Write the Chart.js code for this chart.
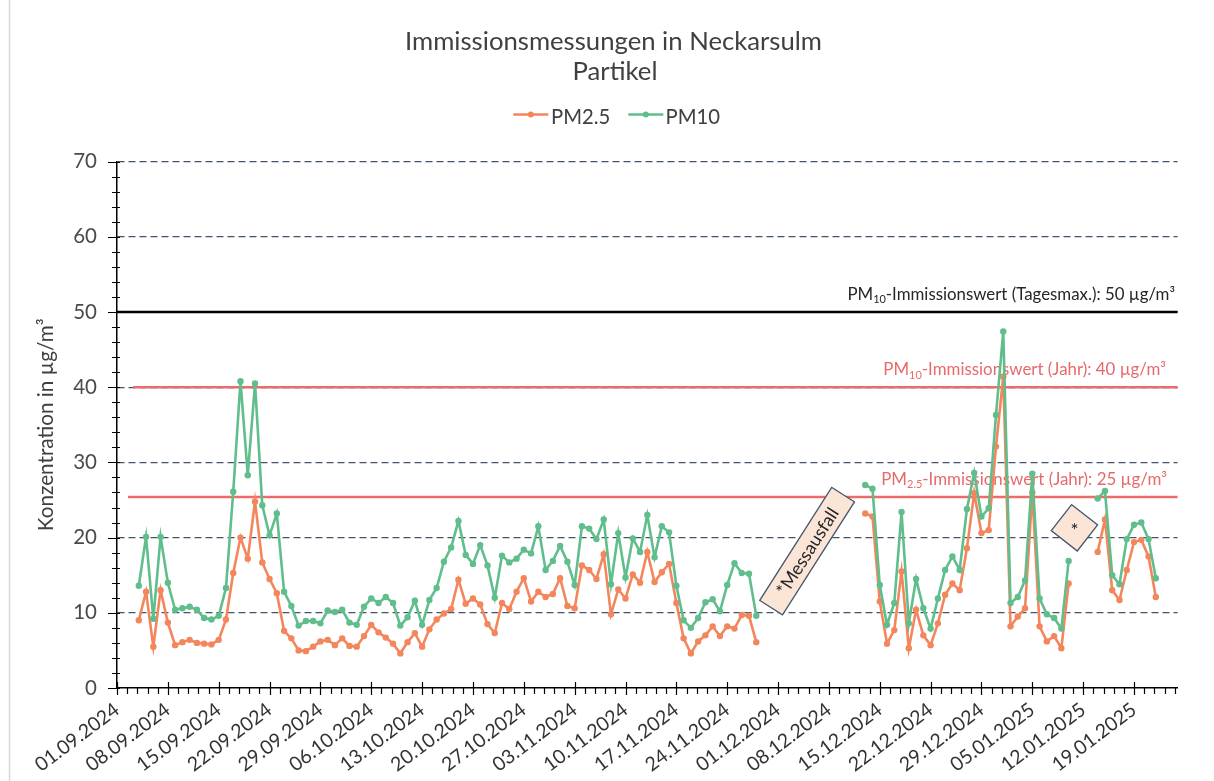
<!DOCTYPE html>
<html><head><meta charset="utf-8">
<script src="https://cdn.jsdelivr.net/npm/chart.js@4/dist/chart.umd.min.js"></script>
<style>html,body{margin:0;padding:0;background:#fff;}#wrap{width:1214px;height:781px;position:relative;}</style>
</head><body><div id="wrap"><canvas id="c" width="1214" height="781"></canvas></div>
<script>
// ---------- DATA ----------
const titleLines = ['Immissionsmessungen in Neckarsulm', 'Partikel'];
const seriesNames = ['PM2.5', 'PM10'];
const axisStartDate = '2024-09-01';
const axisEndDate = '2025-01-25';
const tickLabels = ['01.09.2024','08.09.2024','15.09.2024','22.09.2024','29.09.2024','06.10.2024','13.10.2024','20.10.2024','27.10.2024','03.11.2024','10.11.2024','17.11.2024','24.11.2024','01.12.2024','08.12.2024','15.12.2024','22.12.2024','29.12.2024','05.01.2025','12.01.2025','19.01.2025'];
const yTickValues = [0, 10, 20, 30, 40, 50, 60, 70];
const segmentStarts = ['2024-09-04', '2024-12-13', '2025-01-14'];
const pm25Part1 = [9.0,12.8,5.5,13.0,8.7,5.7,6.1,6.4,6.0,5.9, 5.8,6.4,9.1,15.3,20.0,17.2,24.8,16.7,14.5,12.6, 7.6,6.6,5.0,4.9,5.5,6.2,6.4,5.7,6.6,5.6, 5.5,6.9,8.4,7.4,6.7,5.9,4.6,6.1,7.3,5.5, 7.8,9.1,9.9,10.5,14.4,11.2,11.9,11.1,8.5,7.3, 11.3,10.5,12.8,14.6,11.5,12.8,12.1,12.5,14.6,10.9, 10.6,16.3,15.7,14.5,17.8,9.8,13.1,11.9,15.1,14.0, 18.1,14.1,15.4,16.5,11.3,6.6,4.6,6.2,7.0,8.2, 6.9,8.2,7.9,9.7,9.6,6.1];
const pm10Part1 = [13.6,20.1,9.2,20.1,14.0,10.4,10.6,10.8,10.4,9.3, 9.1,9.6,13.3,26.1,40.8,28.3,40.5,24.3,20.3,23.2, 12.8,10.9,8.3,8.9,8.9,8.6,10.3,10.1,10.4,8.7, 8.4,10.8,11.9,11.3,12.1,11.3,8.3,9.4,11.6,8.4, 11.7,13.3,16.8,18.7,22.2,17.7,16.5,19.0,16.3,12.0, 17.6,16.7,17.2,18.4,17.9,21.5,15.7,16.9,18.9,16.8, 13.7,21.5,21.2,19.8,22.4,13.8,20.6,14.7,19.9,18.1, 23.0,17.4,21.5,20.7,13.6,9.0,8.0,9.3,11.4,11.8, 10.2,13.7,16.6,15.3,15.2,9.6];
const pm25Part2 = [23.2,22.8,11.5,5.9,7.7,15.5,5.3,10.4,7.0,5.7, 8.6,12.4,13.9,13.0,18.6,25.9,20.6,21.0,32.1,41.4, 8.2,9.5,10.6,26.0,8.2,6.2,6.9,5.3,13.9];
const pm10Part2 = [27.0,26.5,13.7,8.4,11.3,23.4,8.6,14.5,10.6,7.9, 11.9,15.7,17.5,15.7,23.8,28.6,22.8,23.9,36.3,47.4, 11.3,12.1,14.3,28.5,11.9,9.8,9.3,7.9,16.9];
const pm25Part3 = [18.1,22.4,13.0,11.7,15.7,19.4,19.7,17.5,12.1];
const pm10Part3 = [25.2,26.2,15.0,13.8,19.8,21.7,22.0,19.8,14.6];
const limitValues = [50, 40, 25.4];
const limitLabelParts = [
  [['PM',0],['10',1],['-Immissionswert (Tagesmax.): 50 µg/m³',0]],
  [['PM',0],['10',1],['-Immissionswert (Jahr): 40 µg/m³',0]],
  [['PM',0],['2.5',1],['-Immissionswert (Jahr): 25 µg/m³',0]]
];
const gapNotes = ['*Messausfall', '*'];
const yAxisTitle = 'Konzentration in µg/m³';

// ---------- helpers ----------
const DAY = 86400000;
function dayIndex(iso){const [Y,M,D]=iso.split('-').map(Number);return Math.round((Date.UTC(Y,M-1,D)-Date.UTC(...axisStartDate.split('-').map((v,i)=>i===1?Number(v)-1:Number(v))))/DAY);}
function buildSeries(parts){
  const pts=[];
  parts.forEach((vals,i)=>{
    const s=dayIndex(segmentStarts[i]);
    if(i>0) pts.push({x:s-0.5,y:null});
    vals.forEach((v,j)=>pts.push({x:s+j,y:v}));
  });
  return pts;
}
const FONT='Lato';
const mctx=document.createElement('canvas').getContext('2d');
function fit(text,target){mctx.font='100px '+FONT;return 100*target/mctx.measureText(text).width;}
function partsWidth(ctx,parts,size){let w=0;parts.forEach(([t,sub])=>{ctx.font=(sub?size*0.65:size)+'px '+FONT;w+=ctx.measureText(t).width;});return w;}

const COL_TEXT='#404040', COL_GREEN='#5FBE8B', COL_ORANGE='#F3865C', COL_RED='#EE6B6B', COL_GRID='#44546A';

const xMax = dayIndex(axisEndDate);

const decor = {
  id:'decor',
  beforeDatasetsDraw(chart){
    const {ctx, chartArea:a, scales:{x,y}} = chart;
    ctx.save();
    const starts=[a.left, a.left+16, a.left+11];
    const colors=['#000000', COL_RED, COL_RED];
    const widths=[2.6,2.4,2.4];
    limitValues.forEach((v,i)=>{
      const py=y.getPixelForValue(v);
      ctx.strokeStyle=colors[i]; ctx.lineWidth=widths[i];
      ctx.beginPath(); ctx.moveTo(starts[i],py); ctx.lineTo(a.right,py); ctx.stroke();
    });
    const rights=[1175,1166,1167];
    const targets=[328,283,286];
    const txtColors=['#262626','#E8696B','#E8696B'];
    limitValues.forEach((v,i)=>{
      const parts=limitLabelParts[i];
      const size=16*targets[i]/partsWidth(ctx,parts,16);
      const w=partsWidth(ctx,parts,size);
      let px=rights[i]-w;
      const base=y.getPixelForValue(v)-12;
      ctx.fillStyle=txtColors[i]; ctx.textBaseline='alphabetic'; ctx.textAlign='left';
      parts.forEach(([t,sub])=>{
        const s=sub?size*0.65:size;
        ctx.font=s+'px '+FONT;
        ctx.fillText(t,px,sub?base+size*0.2:base);
        px+=ctx.measureText(t).width;
      });
    });
    ctx.restore();
  },
  afterDraw(chart){
    const {ctx, chartArea:a, scales:{x,y}} = chart;
    ctx.save();
    ctx.strokeStyle='#000'; ctx.lineWidth=1.2;
    ctx.beginPath();
    for(let v=0; v<=70+1e-9; v+=2){
      const py=Math.round(y.getPixelForValue(v))+0.5;
      const major=(Math.round(v)%10===0);
      ctx.moveTo(a.left-(major?9:5),py); ctx.lineTo(a.left+3,py);
    }
    for(let k=0; k*1.4<=xMax+1e-9; k++){
      const d=k*1.4;
      const px=Math.round(x.getPixelForValue(d))+0.5;
      const major=(k%5===0);
      ctx.moveTo(px,a.bottom-(major?6:0)); ctx.lineTo(px,a.bottom+(major?7:6));
    }
    ctx.stroke();
    ctx.strokeStyle='#D9D9D9'; ctx.lineWidth=1.5;
    ctx.beginPath(); ctx.moveTo(9.5,0); ctx.lineTo(9.5,781); ctx.stroke();
    ctx.fillStyle=COL_TEXT; ctx.textAlign='center'; ctx.textBaseline='alphabetic';
    const ts=fit(titleLines[0],417);
    ctx.font=ts+'px '+FONT;
    ctx.fillText(titleLines[0],613.5,49.5);
    ctx.fillText(titleLines[1],615,79.5);
    const ls=fit(seriesNames[0],59.3);
    const items=[{x0:513.3,x1:548.3,tx:551,col:COL_ORANGE,t:seriesNames[0]},{x0:628.3,x1:663.3,tx:665.5,col:COL_GREEN,t:seriesNames[1]}];
    items.forEach(it=>{
      ctx.strokeStyle=it.col; ctx.lineWidth=2.5;
      ctx.beginPath(); ctx.moveTo(it.x0,114.5); ctx.lineTo(it.x1,114.5); ctx.stroke();
      ctx.fillStyle=it.col; ctx.beginPath(); ctx.arc((it.x0+it.x1)/2,114.5,3,0,Math.PI*2); ctx.fill();
      ctx.fillStyle=COL_TEXT; ctx.textAlign='left'; ctx.font=ls+'px '+FONT;
      ctx.fillText(it.t,it.tx,124);
    });
    const boxes=[{d:95.0,v:18.2,w:134,h:27,rot:-57.5,fs:18},{d:131.8,v:21.3,w:33,h:33,rot:38,fs:19}];
    boxes.forEach((b,i)=>{
      const cx=x.getPixelForValue(b.d), cy=y.getPixelForValue(b.v);
      ctx.save(); ctx.translate(cx,cy); ctx.rotate(b.rot*Math.PI/180);
      ctx.fillStyle='#FBE5D6'; ctx.strokeStyle='#44546A'; ctx.lineWidth=1.3;
      ctx.fillRect(-b.w/2,-b.h/2,b.w,b.h); ctx.strokeRect(-b.w/2,-b.h/2,b.w,b.h);
      if(i===1) ctx.rotate(-b.rot*Math.PI/180);
      ctx.fillStyle='#262626'; ctx.font=b.fs+'px '+FONT; ctx.textAlign='center'; ctx.textBaseline='middle';
      ctx.fillText(gapNotes[i],0,i===1?3:1);
      ctx.restore();
    });
    ctx.restore();
  }
};

Chart.defaults.font.family = FONT;
const yTitleSize = fit(yAxisTitle, 213);

new Chart(document.getElementById('c'), {
  type:'line',
  data:{datasets:[
    {label:seriesNames[0], data:buildSeries([pm25Part1,pm25Part2,pm25Part3]), borderColor:COL_ORANGE, backgroundColor:COL_ORANGE, pointBackgroundColor:COL_ORANGE, pointBorderColor:COL_ORANGE, borderWidth:2.6, pointRadius:3.2, pointBorderWidth:0, spanGaps:false, tension:0, order:1},
    {label:seriesNames[1], data:buildSeries([pm10Part1,pm10Part2,pm10Part3]), borderColor:COL_GREEN, backgroundColor:COL_GREEN, pointBackgroundColor:COL_GREEN, pointBorderColor:COL_GREEN, borderWidth:2.6, pointRadius:3.2, pointBorderWidth:0, spanGaps:false, tension:0, order:0}
  ]},
  options:{
    responsive:false, animation:false, devicePixelRatio:1,
    layout:{padding:{left:0,right:36.4,top:161.6,bottom:0}},
    plugins:{legend:{display:false}, title:{display:false}, tooltip:{enabled:false}},
    scales:{
      x:{type:'linear', min:0, max:xMax,
        afterFit(s){s.height=93;},
        afterBuildTicks(s){s.ticks=tickLabels.map((_,i)=>({value:i*7}));},
        grid:{display:false, drawTicks:false},
        border:{display:true,color:'#000',width:1.5},
        ticks:{autoSkip:false, minRotation:37, maxRotation:37, padding:10, color:'#333333', font:{size:19.5,family:FONT}, callback:(v)=>tickLabels[Math.round(v/7)]||''}
      },
      y:{type:'linear', min:0, max:70,
        afterFit(s){s.width=117;},
        afterBuildTicks(s){s.ticks=yTickValues.map(v=>({value:v}));},
        grid:{drawTicks:false, lineWidth:1.3, color:(c)=>c.tick&&c.tick.value===0?'rgba(0,0,0,0)':COL_GRID},
        border:{display:true,color:'#000',width:1.5,dash:[7,4]},
        ticks:{padding:20, color:'#4a4a4a', font:{size:20.5,family:FONT}},
        title:{display:true, text:yAxisTitle, color:COL_TEXT, font:{size:yTitleSize,family:FONT}, padding:{top:34,bottom:0}}
      }
    }
  },
  plugins:[decor]
});
</script></body></html>
